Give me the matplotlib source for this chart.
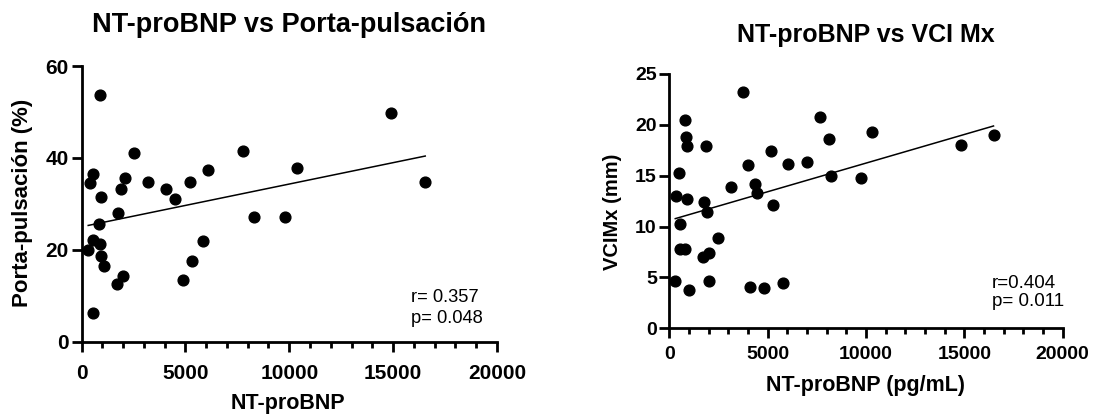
import matplotlib
matplotlib.use("Agg")
import matplotlib.pyplot as plt
import numpy as np
from matplotlib.ticker import MultipleLocator

plt.rcParams['font.family'] = ['Liberation Sans', 'DejaVu Sans']

# ---- Left panel data: NT-proBNP vs Porta-pulsación ----
left_x = [871, 548, 387, 919, 855, 548, 871, 323, 935, 1081, 565, 1726, 2000,
          1758, 1887, 2081, 2549, 3178, 4065, 4516, 5226, 6081, 4887, 5323,
          5839, 7775, 8300, 9807, 10386, 14875, 16545]
left_y = [53.6, 36.6, 34.6, 31.4, 25.7, 22.1, 21.3, 19.9, 18.7, 16.5, 6.2, 12.5,
          14.2, 27.9, 33.2, 35.6, 41.1, 34.7, 33.2, 31.1, 34.7, 37.4, 13.5, 17.5,
          22.0, 41.5, 27.2, 27.2, 37.9, 49.8, 34.8]
left_fit = (0.000931, 25.0)  # slope, intercept
left_stats = ["r= 0.357", "p= 0.048"]

# ---- Right panel data: NT-proBNP vs VCI Mx ----
right_x = [304, 1013, 2027, 355, 490, 524, 524, 811, 811, 861, 895, 912, 1858,
           1740, 1892, 1706, 2027, 2500, 3125, 3766, 4020, 4088, 4375, 4459,
           4814, 5151, 5253, 5759, 6013, 6976, 7685, 8107, 8242, 9767, 10325,
           14843, 16482]
right_y = [4.65, 3.77, 4.65, 12.97, 15.3, 10.26, 7.83, 7.77, 20.5, 18.8, 17.96,
           12.75, 17.9, 12.4, 11.4, 7.04, 7.44, 8.85, 13.86, 23.2, 16.05, 4.03,
           14.2, 13.3, 3.96, 17.4, 12.16, 4.49, 16.2, 16.35, 20.8, 18.6, 14.97,
           14.78, 19.3, 18.05, 18.97]
right_fit = (0.000563, 10.61)
right_stats = ["r=0.404", "p= 0.011"]

W, H = 1093, 416
fig = plt.figure(figsize=(W / 100, H / 100), dpi=100)

def px_axes(x0, x1, ytop, ybot):
    return fig.add_axes([x0 / W, 1 - ybot / H, (x1 - x0) / W, (ybot - ytop) / H])

def ptext(x, y, s, va='center', **kw):
    fig.text(x / W, 1 - y / H, s, ha='center', va=va, **kw)

def style(ax, ymax, ystep, tsize, xpad):
    for s in ['top', 'right']:
        ax.spines[s].set_visible(False)
    for s in ['left', 'bottom']:
        ax.spines[s].set_linewidth(2.0)
    ax.set_xlim(0, 20000)
    ax.set_ylim(0, ymax)
    ax.xaxis.set_major_locator(MultipleLocator(5000))
    ax.xaxis.set_minor_locator(MultipleLocator(1000))
    ax.yaxis.set_major_locator(MultipleLocator(ystep))
    ax.tick_params(which='major', length=7, width=2.0, labelsize=tsize)
    ax.tick_params(axis='x', which='major', pad=xpad)
    ax.tick_params(axis='y', which='major', pad=2)
    ax.tick_params(which='minor', length=4, width=2.0)
    for lab in ax.get_xticklabels() + ax.get_yticklabels():
        lab.set_fontweight('bold')
    ax.patch.set_alpha(0)

def draw(ax, xs, ys, fit):
    ax.scatter(xs, ys, s=60, color='black', zorder=3, clip_on=False)
    xx = np.array([min(xs), max(xs)])
    ax.plot(xx, fit[0] * xx + fit[1], color='black', lw=1.1, zorder=2)

# Left
axL = px_axes(81.5, 497, 66, 341.7)
draw(axL, left_x, left_y, left_fit)
style(axL, 60, 20, 15, 9)
axL.text(15850, 9.7, left_stats[0], fontsize=13.2, va='center', ha='left')
axL.text(15850, 5.1, left_stats[1], fontsize=13.2, va='center', ha='left')
ptext(289, 25, "NT-proBNP vs Porta-pulsación", fontsize=19.5, fontweight='bold')
ptext(288, 409, "NT-proBNP", va='baseline', fontsize=15.5, fontweight='bold')
ptext(23, 203, "Porta-pulsación (%)", fontsize=16, fontweight='bold', rotation=90)

# Right
axR = px_axes(669.3, 1062.7, 74, 328.3)
draw(axR, right_x, right_y, right_fit)
style(axR, 25, 5, 14, 6)
axR.text(16390, 4.45, right_stats[0], fontsize=13.5, va='center', ha='left')
axR.text(16390, 2.6, right_stats[1], fontsize=13.5, va='center', ha='left')
ptext(866, 35, "NT-proBNP vs VCI Mx", fontsize=18, fontweight='bold')
ptext(865, 385, "NT-proBNP (pg/mL)", fontsize=15.5, fontweight='bold')
ptext(613, 211.5, "VCIMx (mm)", fontsize=14.5, fontweight='bold', rotation=90)

fig.savefig("out.png", dpi=100)
